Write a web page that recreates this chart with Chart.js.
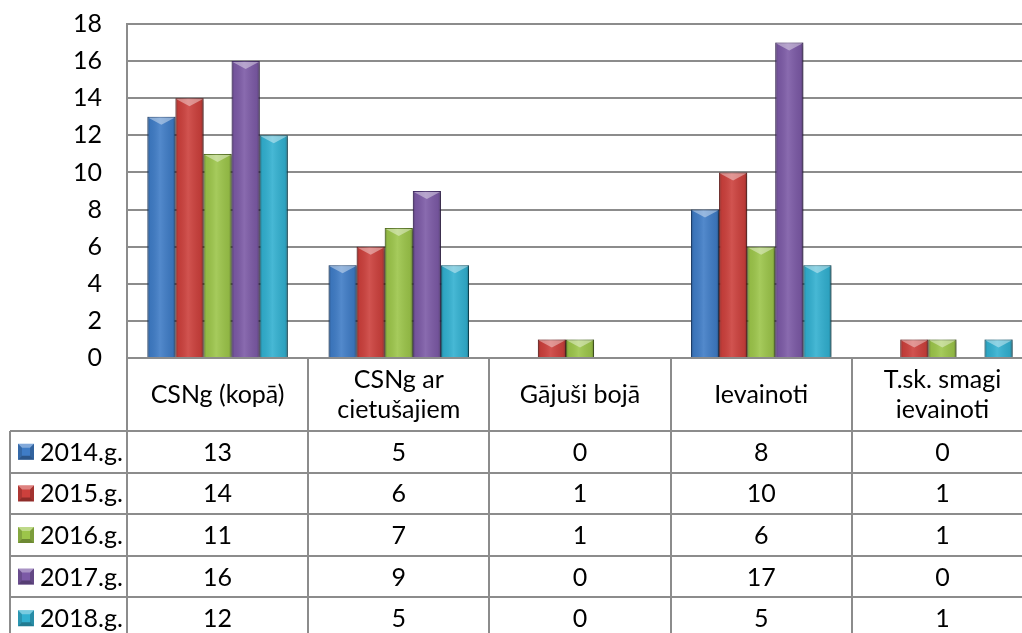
<!DOCTYPE html>
<html><head><meta charset="utf-8">
<script src="https://cdn.jsdelivr.net/npm/chart.js@4.4.1/dist/chart.umd.min.js"></script>
<style>
html,body{margin:0;padding:0;background:#fff;overflow:hidden;width:1022px;height:633px}
#wrap{position:relative;width:1040px;height:633px}
</style></head>
<body><div id="wrap"><canvas id="c" width="1040" height="633"></canvas></div>
<script>
const categories = [["CSNg (kopā)"], ["CSNg ar", "cietušajiem"], ["Gājuši bojā"], ["Ievainoti"], ["T.sk. smagi", "ievainoti"]];
const seriesNames = ["2014.g.", "2015.g.", "2016.g.", "2017.g.", "2018.g."];
const v2014 = [13, 5, 0, 8, 0];
const v2015 = [14, 6, 1, 10, 1];
const v2016 = [11, 7, 1, 6, 1];
const v2017 = [16, 9, 0, 17, 0];
const v2018 = [12, 5, 0, 5, 1];
const seriesValues = [v2014, v2015, v2016, v2017, v2018];
const yMin = 0, yMax = 18, yStep = 2;

const colors = ["#3f7cc6", "#cc403c", "#9cc54a", "#7c5aa6", "#32b0d0"];
const borders = ["#2a5690", "#8a2a28", "#6a8a30", "#52397a", "#1f7a93"];
const lineColor = "#8c8c8c";
const FONT = "Lato, 'Open Sans', sans-serif";
const FS = 25;

const shadowPlugin = {
  id: 'shadowBevel',
  beforeDatasetsDraw(chart) {
    const ctx = chart.ctx;
    ctx.save();
    ctx.shadowColor = 'rgba(0,0,0,0.35)';
    ctx.shadowBlur = 4;
    ctx.shadowOffsetX = 2;
    ctx.shadowOffsetY = 1;
  },
  afterDatasetsDraw(chart) {
    const ctx = chart.ctx;
    ctx.restore();
    ctx.save();
    chart.data.datasets.forEach((ds, di) => {
      const meta = chart.getDatasetMeta(di);
      meta.data.forEach(el => {
        const p = el.getProps(['x', 'y', 'base', 'width'], true);
        const h = p.base - p.y;
        if (h < 1) return;
        const l = p.x - p.width / 2, r = p.x + p.width / 2;
        const g = ctx.createLinearGradient(l, 0, r, 0);
        g.addColorStop(0, 'rgba(0,0,0,0.28)');
        g.addColorStop(0.1, 'rgba(0,0,0,0.06)');
        g.addColorStop(0.45, 'rgba(255,255,255,0.1)');
        g.addColorStop(0.9, 'rgba(0,0,0,0.08)');
        g.addColorStop(1, 'rgba(0,0,0,0.32)');
        ctx.fillStyle = g;
        ctx.fillRect(l, p.y, p.width, h);
        const bh = Math.min(8, h);
        ctx.beginPath();
        ctx.moveTo(l + 1, p.y + 1);
        ctx.lineTo(r - 1, p.y + 1);
        ctx.lineTo(p.x, p.y + bh);
        ctx.closePath();
        ctx.fillStyle = 'rgba(255,255,255,0.4)';
        ctx.fill();
      });
    });
    ctx.restore();
  }
};

function drawKey(ctx, x, y, s, color) {
  ctx.fillStyle = color;
  ctx.fillRect(x, y, s, s);
  const in_ = 4;
  ctx.beginPath(); ctx.moveTo(x, y); ctx.lineTo(x + s, y); ctx.lineTo(x + s - in_, y + in_); ctx.lineTo(x + in_, y + in_); ctx.closePath();
  ctx.fillStyle = 'rgba(255,255,255,0.35)'; ctx.fill();
  ctx.beginPath(); ctx.moveTo(x, y + s); ctx.lineTo(x + s, y + s); ctx.lineTo(x + s - in_, y + s - in_); ctx.lineTo(x + in_, y + s - in_); ctx.closePath();
  ctx.fillStyle = 'rgba(0,0,0,0.3)'; ctx.fill();
  ctx.beginPath(); ctx.moveTo(x, y); ctx.lineTo(x + in_, y + in_); ctx.lineTo(x + in_, y + s - in_); ctx.lineTo(x, y + s); ctx.closePath();
  ctx.fillStyle = 'rgba(0,0,0,0.15)'; ctx.fill();
  ctx.beginPath(); ctx.moveTo(x + s, y); ctx.lineTo(x + s - in_, y + in_); ctx.lineTo(x + s - in_, y + s - in_); ctx.lineTo(x + s, y + s); ctx.closePath();
  ctx.fillStyle = 'rgba(0,0,0,0.2)'; ctx.fill();
}

const tablePlugin = {
  id: 'dataTable',
  afterDraw(chart) {
    const ctx = chart.ctx, a = chart.chartArea, xs = chart.scales.x;
    const n = categories.length, w = (a.right - a.left) / n;
    const H = chart.height;
    const top = a.bottom, headH = 73, rowH = 41.6, legL = 10;
    ctx.save();
    ctx.strokeStyle = lineColor;
    ctx.lineWidth = 2;
    const line = (x1, y1, x2, y2) => { ctx.beginPath(); ctx.moveTo(x1, y1); ctx.lineTo(x2, y2); ctx.stroke(); };
    for (let i = 0; i <= n; i++) {
      const xx = Math.round(a.left + i * w);
      line(xx, top, xx, H);
    }
    line(legL, top + headH, legL, H);
    for (let r = 0; r <= seriesNames.length; r++) {
      const yy = Math.round(top + headH + r * rowH);
      line(legL, yy, a.right, yy);
    }
    ctx.fillStyle = '#000';
    ctx.font = FS + 'px ' + FONT;
    ctx.textAlign = 'center';
    ctx.textBaseline = 'middle';
    const lh = 30;
    categories.forEach((lab, i) => {
      const cx = xs.getPixelForValue(i);
      const cy = top + headH / 2;
      const y0 = cy - (lab.length - 1) * lh / 2;
      lab.forEach((t, k) => ctx.fillText(t, cx, y0 + k * lh));
    });
    seriesNames.forEach((name, r) => {
      const cy = top + headH + r * rowH + rowH / 2;
      drawKey(ctx, 18, cy - 8, 16, colors[r]);
      ctx.fillStyle = '#000';
      ctx.textAlign = 'left';
      ctx.fillText(name, 40, cy + 1);
      ctx.textAlign = 'center';
      seriesValues[r].forEach((v, i) => {
        ctx.fillText(String(v), xs.getPixelForValue(i), cy + 1);
      });
    });
    ctx.restore();
  }
};

new Chart(document.getElementById('c'), {
  type: 'bar',
  data: {
    labels: categories,
    datasets: seriesNames.map((name, i) => ({
      label: name,
      data: seriesValues[i],
      backgroundColor: colors[i],
      borderColor: borders[i],
      borderWidth: 1,
      barPercentage: 1.0,
      categoryPercentage: 0.775
    }))
  },
  options: {
    responsive: false,
    animation: false,
    devicePixelRatio: 1,
    layout: { padding: { top: 24, right: 7, left: 0, bottom: 0 } },
    plugins: { legend: { display: false }, tooltip: { enabled: false } },
    scales: {
      x: {
        ticks: { display: false },
        grid: { display: false },
        border: { display: false },
        afterFit(s) { s.height = 275; }
      },
      y: {
        min: yMin, max: yMax,
        ticks: { stepSize: yStep, color: '#000', font: { family: FONT, size: FS }, padding: 0 },
        grid: { color: lineColor, lineWidth: 2, drawTicks: true, tickLength: 25, tickColor: 'rgba(0,0,0,0)' },
        border: { display: true, color: lineColor, width: 2 },
        afterFit(s) { s.width = 127; }
      }
    }
  },
  plugins: [shadowPlugin, tablePlugin]
});
</script>
</body></html>
